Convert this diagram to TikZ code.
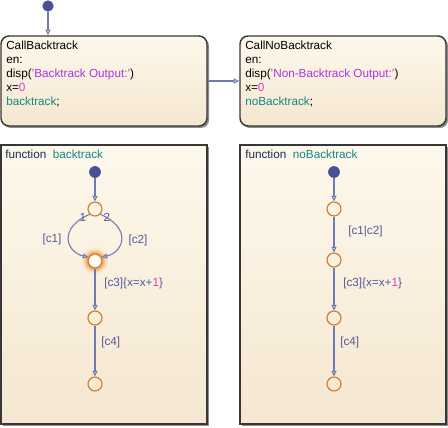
\documentclass[tikz,border=0pt]{standalone}
\usepackage{fontspec}
\setmainfont{Liberation Sans}
\usetikzlibrary{arrows.meta,shadows}
\definecolor{boxline}{RGB}{55,55,55}
\definecolor{filltop}{RGB}{253,248,236}
\definecolor{fillbot}{RGB}{245,231,208}
\definecolor{transc}{RGB}{112,120,182}
\definecolor{initc}{RGB}{72,78,152}
\definecolor{juncor}{RGB}{205,125,45}
\definecolor{lblc}{RGB}{85,90,150}
\definecolor{strc}{RGB}{172,52,232}
\definecolor{numc}{RGB}{225,60,200}
\definecolor{tealc}{RGB}{20,135,130}
\definecolor{funcc}{RGB}{25,45,85}
\definecolor{glowc}{RGB}{240,140,40}
\colorlet{fillmid}{filltop!60!fillbot}
\begin{document}
\begin{tikzpicture}[x=0.75pt,y=-0.75pt,
  font=\fontsize{8.8}{10.5}\selectfont,
  shadowed/.style={drop shadow={shadow xshift=1.5pt,shadow yshift=-1.5pt,fill=black,opacity=0.45}},
  statebox/.style={shadowed,draw=boxline,line width=1.1pt,rounded corners=6pt,top color=filltop,bottom color=fillbot,minimum width=154.5pt,minimum height=67.5pt,inner sep=0pt},
  funcbox/.style={shadowed,draw=boxline,line width=1.1pt,top color=filltop,bottom color=fillbot,minimum width=154.5pt,minimum height=209.25pt,inner sep=0pt},
  txt/.style={anchor=base west,inner sep=0pt},
  junc/.style={circle,draw=juncor,line width=0.85pt,minimum size=10.5pt,inner sep=0pt},
  initdot/.style={circle,fill=initc,minimum size=8.5pt,inner sep=0pt},
  trans/.style={draw=transc,line width=0.8pt,-{Triangle[open,length=4.2pt,width=3.8pt]}},
  lbl/.style={text=lblc,inner sep=0pt}
]
\useasboundingbox (0,0) rectangle (448,427);

% state boxes
\node[statebox] (cb) at (104,81) {};
\node[statebox] (cnb) at (343,81) {};
\node[funcbox] (fb) at (104,284.5) {};
\node[funcbox] (fnb) at (343,284.5) {};

% texts of CallBacktrack
\node[txt] (cb1) at (6,49.2) {CallBacktrack};
\node[txt] (cb2) at (6,63.2) {en:};
\node[txt] (cb3) at (6,77.2) {disp(\textcolor{strc}{'Backtrack Output:'})};
\node[txt] (cb4) at (6,91.2) {x=\textcolor{numc}{0}};
\node[txt] (cb5) at (6,105.2) {\textcolor{tealc}{backtrack};};

% texts of CallNoBacktrack
\node[txt] (cn1) at (245,49.2) {CallNoBacktrack};
\node[txt] (cn2) at (245,63.2) {en:};
\node[txt] (cn3) at (245,77.2) {disp(\textcolor{strc}{'Non-Backtrack Output:'})};
\node[txt] (cn4) at (245,91.2) {x=\textcolor{numc}{0}};
\node[txt] (cn5) at (245,105.2) {\textcolor{tealc}{noBacktrack};};

% function titles
\node[txt,text=funcc] (ft1) at (5,158.2) {function\ \ \textcolor{tealc}{backtrack}};
\node[txt,text=funcc] (ft2) at (245,158.2) {function\ \ \textcolor{tealc}{noBacktrack}};

% top default transition
\node[initdot] (i0) at (48,6) {};
\draw[trans] (i0) -- (i0 |- cb.north);
\draw[trans] (cb.east) -- (cnb.west);

% glow around the active junction
\foreach \r/\k in {13.2/3,12.6/6,12/10,11.4/16,10.8/24,10.2/33,9.6/43,9/54,8.4/65,7.8/75}
  \draw[glowc!\k!fillmid,line width=0.6pt] (95,261) circle (\r);
\fill[white] (95,261) circle (7);
\draw[glowc!25!white,line width=0.6pt] (95,261) circle (6.2);

% backtrack function
\node[initdot,minimum size=8.8pt] (ia) at (95,172) {};
\node[junc] (a1) at (95,209) {};
\node[junc] (a2) at (95,261) {};
\node[junc] (a3) at (95,318) {};
\node[junc] (a4) at (95,384) {};
\draw[trans] (ia) -- (a1);
\draw[trans] (a1.225) .. controls (58,228) and (66,252) .. (a2.150);
\draw[trans] (a1.315) .. controls (132,228) and (124,252) .. (a2.30);
\draw[trans] (a2) -- (a3);
\draw[trans] (a3) -- (a4);
\node[lbl] (n1) at (83,217) {1};
\node[lbl] (n2) at (107,217) {2};
\node[lbl] (c1) at (52,239) {[c1]};
\node[lbl] (c2) at (138,240) {[c2]};
\node[lbl,anchor=west] (c3a) at (104,283) {[c3]\{x=x+\textcolor{numc}{1}\}};
\node[lbl,anchor=west] (c4a) at (101,342) {[c4]};

% noBacktrack function
\node[initdot,minimum size=8.8pt] (ib) at (334,172) {};
\node[junc] (b1) at (334,209) {};
\node[junc] (b2) at (334,260) {};
\node[junc] (b3) at (334,318) {};
\node[junc] (b4) at (334,384) {};
\draw[trans] (ib) -- (b1);
\draw[trans] (b1) -- (b2);
\draw[trans] (b2) -- (b3);
\draw[trans] (b3) -- (b4);
\node[lbl,anchor=west] (c12b) at (348,231) {[c1|c2]};
\node[lbl,anchor=west] (c3b) at (343,283) {[c3]\{x=x+\textcolor{numc}{1}\}};
\node[lbl,anchor=west] (c4b) at (340,342) {[c4]};
\end{tikzpicture}
\end{document}
